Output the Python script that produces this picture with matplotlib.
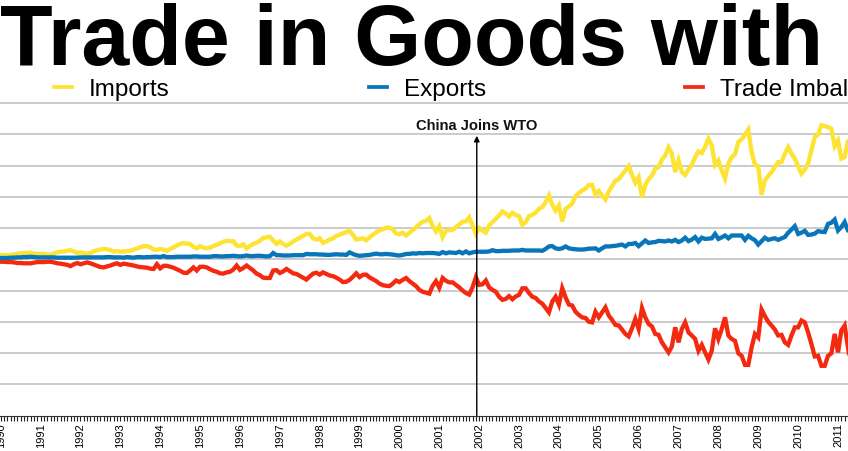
import numpy as np
import matplotlib
matplotlib.use("Agg")
import matplotlib.pyplot as plt

plt.rcParams["font.family"] = ["Liberation Sans", "DejaVu Sans"]

# monthly values, $ billions, one row per year from Jan 1990
imports = [
    1.4, 1.3, 1.3, 1.4, 1.6, 1.7, 1.9, 2.0, 2.0, 2.1, 1.8, 1.7,
    1.7, 1.7, 1.5, 1.4, 1.9, 2.2, 2.4, 2.5, 2.7, 2.9, 2.5, 2.0,
    2.2, 1.9, 1.8, 2.0, 2.5, 2.9, 3.1, 3.3, 3.2, 2.9, 2.5, 2.6,
    2.4, 2.5, 2.6, 2.7, 3.1, 3.4, 3.8, 4.2, 4.2, 3.8, 3.1, 3.0,
    3.3, 3.1, 2.7, 3.3, 3.8, 4.4, 4.9, 5.1, 5.0, 4.9, 4.0, 3.5,
    4.2, 3.7, 3.5, 3.7, 4.2, 4.6, 5.1, 5.6, 5.9, 5.8, 5.8, 4.4,
    4.2, 4.8, 3.5, 4.2, 4.9, 5.3, 5.9, 6.8, 7.0, 7.2, 6.0, 4.9,
    5.7, 4.9, 4.3, 4.9, 5.7, 6.3, 6.9, 7.5, 8.1, 8.1, 6.7, 6.3,
    6.7, 5.2, 5.7, 6.3, 6.7, 7.4, 7.9, 8.3, 8.7, 9.1, 7.8, 6.3,
    6.5, 6.7, 6.1, 7.0, 7.8, 8.6, 9.2, 9.6, 10.1, 10.1, 9.5, 8.3,
    8.0, 8.5, 7.6, 8.5, 9.3, 10.2, 11.2, 12.0, 12.3, 13.2, 10.6, 8.9,
    10.6, 7.1, 9.2, 9.3, 9.4, 10.3, 11.1, 12.0, 12.1, 13.4, 10.8, 8.2,
    10.0, 9.2, 8.5, 10.8, 11.9, 12.9, 14.0, 15.3, 14.6, 13.7, 14.9, 14.2,
    13.8, 11.0, 11.9, 13.8, 14.2, 14.9, 16.1, 16.7, 18.3, 20.4, 17.4, 15.6,
    17.2, 12.1, 16.1, 16.9, 17.8, 20.2, 21.2, 22.0, 22.6, 23.8, 23.8, 20.6,
    21.8, 20.4, 19.1, 21.7, 23.4, 25.2, 25.6, 27.0, 28.4, 29.8, 27.0, 24.5,
    26.2, 19.9, 23.8, 25.6, 26.8, 29.0, 29.5, 31.9, 33.2, 35.8, 33.8, 27.9,
    31.6, 27.9, 27.0, 28.8, 30.2, 32.7, 34.5, 34.0, 35.9, 38.6, 36.4, 30.2,
    31.6, 28.4, 25.8, 30.6, 32.7, 33.6, 37.5, 38.4, 39.9, 41.5, 34.3, 30.2,
    29.8, 20.6, 25.2, 26.6, 27.9, 29.5, 31.1, 31.1, 33.8, 35.9, 33.8, 32.2,
    29.8, 27.4, 28.8, 30.6, 34.8, 39.1, 39.9, 42.9, 42.6, 42.3, 41.8, 36.2,
    38.0, 32.2, 32.7, 37.7, 38.5,
]
exports = [
    0.4, 0.4, 0.4, 0.5, 0.5, 0.6, 0.6, 0.7, 0.7, 0.8, 0.7, 0.6,
    0.6, 0.6, 0.6, 0.6, 0.6, 0.5, 0.5, 0.5, 0.5, 0.5, 0.5, 0.5,
    0.6, 0.6, 0.6, 0.6, 0.6, 0.6, 0.6, 0.6, 0.7, 0.7, 0.6, 0.6,
    0.6, 0.5, 0.7, 0.6, 0.5, 0.7, 0.7, 0.6, 0.7, 0.7, 0.8, 0.8,
    0.7, 1.0, 0.7, 0.7, 0.7, 0.8, 0.8, 0.8, 0.8, 0.8, 0.9, 0.9,
    0.8, 0.8, 0.8, 0.8, 1.0, 1.0, 0.9, 0.9, 1.0, 1.0, 1.1, 1.0,
    0.9, 1.0, 1.2, 1.0, 1.0, 1.1, 1.1, 1.0, 0.9, 1.0, 2.0, 1.3,
    1.3, 1.2, 1.2, 1.2, 1.3, 1.3, 1.3, 1.3, 1.7, 1.6, 1.6, 1.6,
    1.5, 1.5, 1.4, 1.4, 1.5, 1.6, 1.5, 1.5, 1.4, 2.2, 1.7, 1.3,
    1.1, 1.2, 1.3, 1.4, 1.6, 1.8, 1.6, 1.6, 1.7, 1.6, 1.5, 1.3,
    1.2, 1.4, 1.7, 1.7, 1.9, 1.8, 2.0, 1.9, 2.0, 2.0, 2.0, 1.9,
    1.7, 2.3, 1.9, 2.2, 2.1, 2.0, 2.4, 1.9, 2.5, 1.9, 2.2, 2.4,
    2.4, 2.4, 2.4, 2.5, 2.9, 2.6, 2.6, 2.7, 2.7, 2.7, 2.8, 2.8,
    2.8, 3.0, 2.8, 2.8, 2.8, 2.8, 2.8, 2.7, 3.3, 4.1, 4.2, 3.5,
    3.3, 3.5, 4.1, 3.5, 3.3, 3.2, 3.1, 3.1, 3.2, 3.4, 3.4, 3.5,
    2.8, 3.5, 4.1, 4.1, 4.2, 4.3, 4.5, 4.7, 4.1, 4.9, 4.9, 5.2,
    4.2, 5.1, 6.0, 5.2, 5.4, 5.5, 5.9, 5.8, 5.7, 6.0, 5.7, 6.2,
    5.5, 6.0, 6.9, 5.8, 6.3, 7.1, 5.7, 6.9, 6.5, 6.6, 6.7, 8.1,
    6.5, 7.0, 7.6, 6.7, 7.6, 7.6, 7.6, 7.6, 6.2, 7.5, 6.7, 6.1,
    4.7, 5.8, 6.9, 6.2, 6.5, 6.7, 6.2, 6.7, 7.1, 8.5, 9.5, 10.6,
    8.1, 8.5, 9.1, 7.8, 7.9, 8.2, 9.0, 8.8, 8.7, 11.3, 11.7, 12.7,
    9.2, 10.3, 11.9, 9.2, 9.0,
]
imbalance = [
    -0.8, -0.8, -0.9, -0.9, -1.0, -1.2, -1.2, -1.3, -1.3, -1.3, -1.1, -0.9,
    -0.9, -0.9, -0.8, -0.8, -1.0, -1.3, -1.4, -1.6, -1.8, -2.2, -1.6, -1.2,
    -1.6, -1.3, -1.0, -1.3, -1.7, -2.1, -2.5, -2.6, -2.3, -2.0, -1.6, -1.3,
    -1.8, -1.4, -1.6, -1.8, -2.0, -2.3, -2.5, -2.6, -2.7, -3.0, -3.1, -1.6,
    -2.9, -2.1, -2.1, -2.4, -2.7, -3.2, -3.7, -4.3, -4.4, -3.6, -2.6, -3.6,
    -2.4, -2.4, -2.6, -3.2, -3.7, -4.0, -4.5, -4.6, -4.2, -4.0, -3.3, -2.0,
    -3.4, -2.8, -2.0, -2.8, -3.6, -4.6, -5.1, -5.9, -6.0, -6.0, -3.6, -3.5,
    -4.4, -3.9, -3.1, -3.8, -4.5, -4.7, -5.3, -5.9, -6.5, -5.5, -4.6, -4.3,
    -4.9, -4.2, -4.7, -5.2, -5.4, -5.9, -6.5, -7.3, -7.2, -6.6, -5.6, -4.5,
    -5.7, -5.0, -4.9, -5.8, -6.4, -7.0, -7.8, -8.3, -8.5, -8.6, -7.8, -6.8,
    -7.3, -6.6, -6.0, -7.0, -7.8, -8.6, -9.8, -10.4, -10.7, -11.0, -8.5, -7.0,
    -9.1, -6.0, -6.9, -7.4, -7.4, -8.2, -9.0, -10.0, -10.8, -11.3, -9.0, -5.8,
    -8.2, -8.0, -6.8, -9.0, -9.8, -10.4, -12.0, -13.0, -12.7, -11.8, -12.8, -11.9,
    -11.4, -9.3, -9.3, -10.8, -12.0, -12.4, -13.5, -14.2, -15.6, -17.0, -13.5, -12.0,
    -14.5, -9.3, -12.2, -14.5, -14.8, -16.8, -17.8, -18.6, -18.8, -20.0, -20.2, -16.8,
    -18.6, -17.0, -15.4, -18.0, -19.4, -21.0, -21.2, -22.5, -23.9, -24.7, -22.1, -19.1,
    -22.3, -15.6, -18.6, -20.7, -21.5, -23.9, -24.2, -26.6, -28.2, -29.8, -27.9, -21.8,
    -26.6, -22.3, -20.2, -23.4, -24.4, -25.5, -29.3, -27.4, -29.8, -32.1, -29.3, -22.1,
    -25.5, -22.3, -18.6, -24.4, -25.5, -26.1, -30.1, -30.9, -33.8, -33.8, -28.2, -23.9,
    -25.0, -16.1, -18.2, -20.0, -21.2, -22.5, -24.4, -24.2, -26.6, -27.4, -24.4, -21.8,
    -21.8, -19.6, -20.2, -23.4, -27.1, -31.1, -30.9, -34.1, -34.1, -30.9, -30.1, -23.9,
    -29.8, -22.8, -21.2, -28.2, -25.0,
]
years = list(range(1990, 2012))
wto_year = 2001.94
wto_label = "China Joins WTO"
title = "Trade in Goods with China"

YELLOW = "#fde333"
BLUE = "#0a76ba"
RED = "#f32a10"
W, H = 848, 452


def month_axis(values):
    return 1990 + np.arange(len(values)) / 12


fig = plt.figure(figsize=(W / 100, H / 100), dpi=100)
ax = fig.add_axes([0, (H - 416.5) / H, 1, (416.5 - 104) / H])
ax.patch.set_visible(False)

line_style = dict(lw=3.1, solid_joinstyle="miter")
ax.plot(month_axis(imports), imports, color=YELLOW, label="Imports", zorder=3, **line_style)
ax.plot(month_axis(imbalance), imbalance, color=RED, label="Trade Imbalance", zorder=3, **line_style)
ax.plot(month_axis(exports), exports, color=BLUE, label="Exports", zorder=4, **line_style)

ax.set_yticks(np.arange(-40, 51, 10))
ax.tick_params(axis="y", left=False, labelleft=False)
ax.grid(axis="y", color="#bdbdbd", lw=1.1, zorder=1)
ax.set_axisbelow(True)
for gridline in ax.get_ygridlines():
    gridline.set_clip_on(False)

ax.set_xticks(years)
ax.set_xticklabels(years, rotation=90, fontsize=8)
ax.set_xticks(1990 + np.arange(0, 12 * 22) / 12, minor=True)
ax.tick_params(axis="x", which="major", length=3.5, width=0.8, pad=1.5, color="#222222")
ax.tick_params(axis="x", which="minor", length=3.5, width=0.8, color="#222222")

# limits go after the ticks, set_xticks widens the view otherwise
ax.set_xlim(1990 - 0.73 / 39.87, 1990 + (848 - 0.73) / 39.87)
ax.set_ylim(-50, 50)

for side in ["left", "right", "top"]:
    ax.spines[side].set_visible(False)
ax.spines["bottom"].set_linewidth(0.8)
ax.spines["bottom"].set_color("#333333")

ax.annotate(
    "", xy=(wto_year, 39.5), xytext=(wto_year, -50),
    arrowprops=dict(arrowstyle="-|>", color="black", lw=1.0, shrinkA=0, shrinkB=0,
                    mutation_scale=8),
    zorder=5,
)
ax.text(wto_year, 40.8, wto_label, ha="center", va="bottom", fontsize=10.6,
        fontweight="bold", color="#111111")

fig.text(0.5 / W, 1 - 65 / H, title, ha="left", va="baseline", fontsize=62,
         fontweight="bold", color="black")

handles, labels = ax.get_legend_handles_labels()
order = [0, 2, 1]
legend = fig.legend(
    [handles[i] for i in order], [labels[i] for i in order],
    loc="center left", bbox_to_anchor=(54 / W, 1 - 90 / H), ncols=3, frameon=False,
    fontsize=17.5, handlelength=0.75, handletextpad=0.68, columnspacing=8.2,
    borderpad=0, borderaxespad=0,
)
for handle in legend.get_lines():
    handle.set_linewidth(2.7)

fig.savefig("out.png", dpi=100)
